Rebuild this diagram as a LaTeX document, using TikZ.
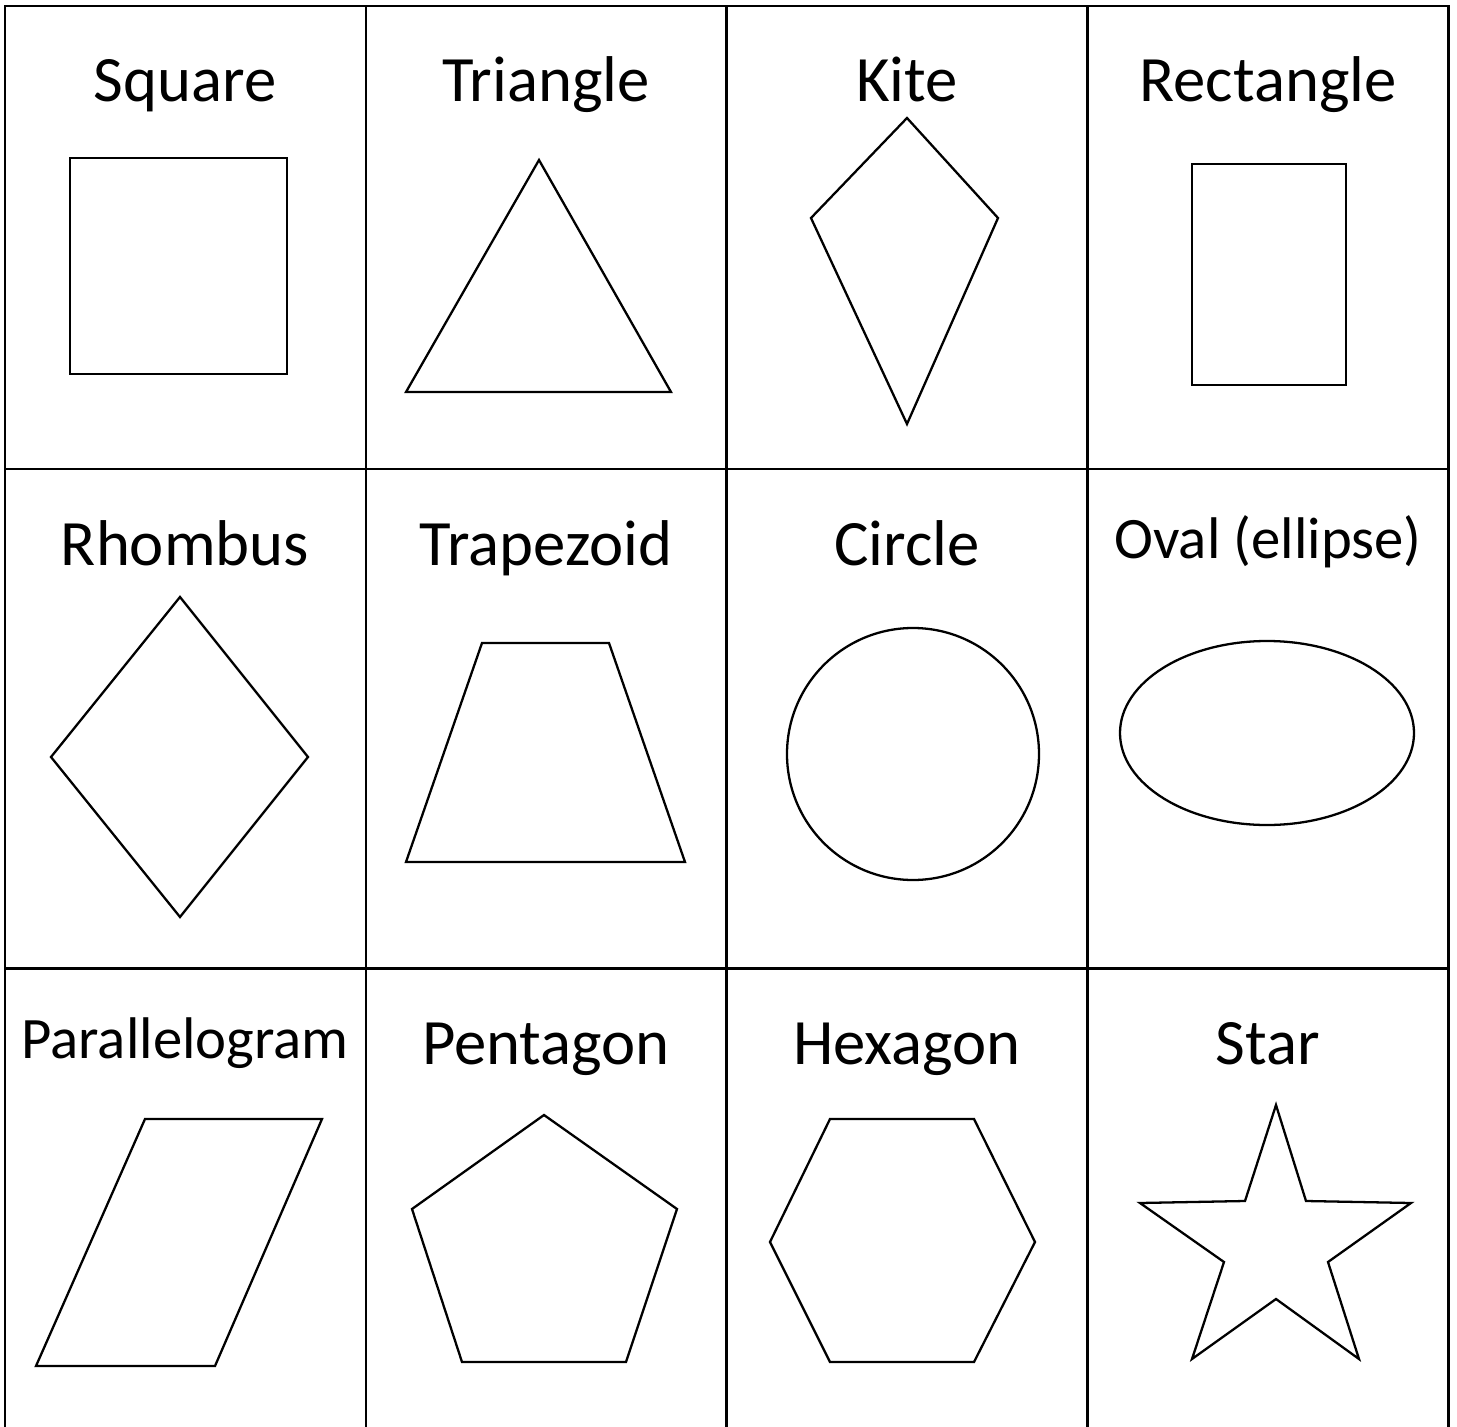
\documentclass[tikz,border=0pt]{standalone}
\usepackage{fontspec}
\setmainfont{Carlito}
\begin{document}
\begin{tikzpicture}[x=0.01cm, y=-0.01cm, line join=miter,
  grid/.style={line width=0.85pt},
  outline/.style={line width=0.65pt},
  lbl/.style={anchor=base, inner sep=0pt, font=\fontsize{18.4}{22}\selectfont},
  lblsmall/.style={anchor=base, inner sep=0pt, font=\fontsize{16.7}{20}\selectfont}]
  \useasboundingbox (0,0) rectangle (1457,1427);
  % table
  \draw[grid] (5,1427) -- (5,6) -- (1448,6) -- (1448,1427);
  \draw[grid] (366,6) -- (366,1427);
  \draw[grid] (726,6) -- (726,1427);
  \draw[grid] (1087,6) -- (1087,1427);
  \draw[grid] (5,469) -- (1448,469);
  \draw[grid] (5,968) -- (1448,968);
  % labels
  \node[lbl] (square) at (185,101) {Square};
  \node[lbl] (triangle) at (546,101) {Triangle};
  \node[lbl] (kite) at (907,101) {Kite};
  \node[lbl] (rectangle) at (1268,101) {Rectangle};
  \node[lbl] (rhombus) at (185,565) {Rhombus};
  \node[lbl] (trapezoid) at (546,565) {Trapezoid};
  \node[lbl] (circle) at (907,565) {Circle};
  \node[lblsmall] (oval) at (1268,558) {Oval (ellipse)};
  \node[lblsmall] (parallelogram) at (185,1058) {Parallelogram};
  \node[lbl] (pentagon) at (546,1064) {Pentagon};
  \node[lbl] (hexagon) at (907,1064) {Hexagon};
  \node[lbl] (star) at (1268,1064) {Star};
  % shapes
  \draw[outline] (70,158) rectangle (287,374);
  \draw[outline] (406,392) -- (539,160) -- (671,392) -- cycle;
  \draw[outline] (907,118) -- (998,218) -- (907,424) -- (811,218) -- cycle;
  \draw[outline] (1192,164) rectangle (1346,385);
  \draw[outline] (180,597) -- (308,757) -- (180,917) -- (51,757) -- cycle;
  \draw[outline] (406,862) -- (482,643) -- (609,643) -- (685,862) -- cycle;
  \draw[outline] (913,754) circle (126);
  \draw[outline] (1267,733) ellipse (147 and 92);
  \draw[outline] (36,1366) -- (145,1119) -- (322,1119) -- (215,1366) -- cycle;
  \draw[outline] (544,1115) -- (677,1209) -- (626,1362) -- (462,1362) -- (412,1209) -- cycle;
  \draw[outline] (770,1242) -- (830,1119) -- (974,1119) -- (1035,1242) -- (974,1362) -- (830,1362) -- cycle;
  \draw[outline] (1276,1105) -- (1306,1201) -- (1411,1203) -- (1328,1262) -- (1359,1359)
    -- (1276,1299) -- (1192,1359) -- (1224,1262) -- (1140,1203) -- (1245,1201) -- cycle;
\end{tikzpicture}
\end{document}
